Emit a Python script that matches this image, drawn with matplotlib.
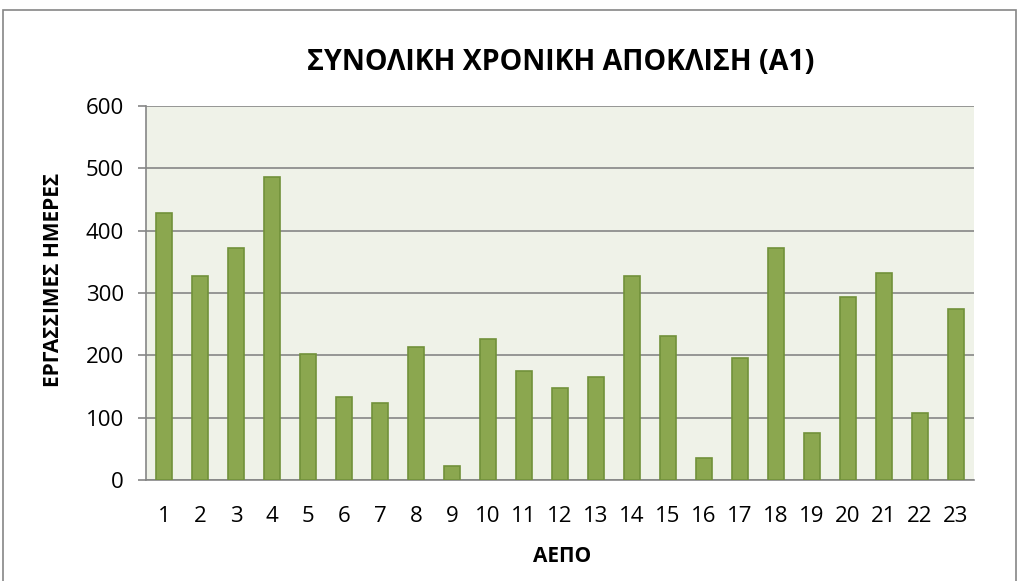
import numpy as np
import matplotlib.pyplot as plt
from matplotlib.patches import Rectangle

plt.rcParams['font.family'] = ['Open Sans', 'DejaVu Sans']

# ΑΕΠΟ 1..23
categories = [str(i) for i in range(1, 24)]
days = [428, 327, 372, 486, 202, 133, 123, 213, 22, 226, 175, 148,
        165, 327, 231, 35, 196, 372, 76, 293, 332, 107, 274]
y_ticks = [0, 100, 200, 300, 400, 500, 600]

fig = plt.figure(figsize=(10.19, 5.81), dpi=100)
ax = fig.add_axes([146 / 1019, 1 - 480 / 581, 828 / 1019, 374 / 581])

x = np.arange(len(categories))
ax.bar(x, days, width=0.43, color='#8BA74F', edgecolor='#71913A',
       linewidth=1.2, zorder=3)

ax.set_facecolor('#EFF2E8')
ax.set_xlim(-0.5, len(categories) - 0.5)
ax.set_ylim(0, 600)
ax.set_yticks(y_ticks)
ax.set_xticks(x)
ax.set_xticklabels(categories)
ax.yaxis.grid(True, color='#868686', linewidth=1.2, zorder=0)
ax.tick_params(axis='y', length=6, width=1.2, color='#868686', labelsize=16, pad=10)
ax.tick_params(axis='x', length=0, labelsize=16, pad=19)

for side in ['top', 'right']:
    ax.spines[side].set_visible(False)
ax.spines['left'].set_color('#868686')
ax.spines['bottom'].set_color('#868686')
ax.spines['left'].set_linewidth(1.2)
ax.spines['bottom'].set_linewidth(1.2)

fig.text(561 / 1019, 1 - 62 / 581, 'ΣΥΝΟΛΙΚΗ ΧΡΟΝΙΚΗ ΑΠΟΚΛΙΣΗ (Α1)',
         ha='center', va='center', fontsize=20.5, fontweight='bold')
fig.text(562 / 1019, 1 - 556 / 581, 'ΑΕΠΟ', ha='center', va='center',
         fontsize=15, fontweight='bold')
fig.text(54 / 1019, 1 - 280 / 581, 'ΕΡΓΑΣΣΙΜΕΣ ΗΜΕΡΕΣ', ha='center',
         va='center', rotation=90, fontsize=15, fontweight='bold')

# chart border
fig.patches.append(Rectangle((3 / 1019, -0.01), 1013 / 1019, 1 - 10 / 581 + 0.01,
                             transform=fig.transFigure, fill=False,
                             edgecolor='#868686', linewidth=1.2))

fig.savefig('out.png', dpi=100)
